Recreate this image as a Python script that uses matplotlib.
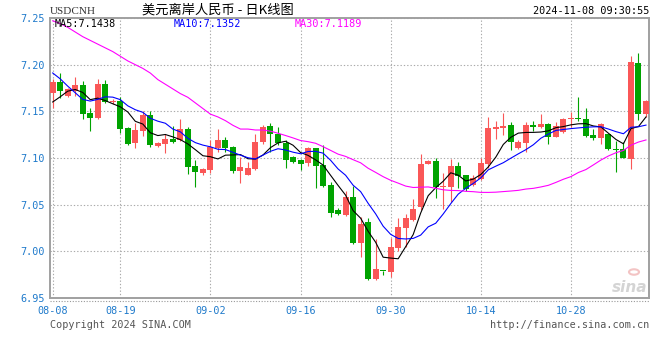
import matplotlib
matplotlib.use("Agg")
import matplotlib.pyplot as plt
import pandas as pd
from matplotlib.lines import Line2D

# Daily candles USDCNH, 2024-08-08 .. 2024-11-08 (Mon-Sat sessions)
opens = [
    7.1695, 7.1812, 7.1663, 7.1713, 7.1777, 7.1479, 7.1426, 7.1798, 7.1600, 7.1610,
    7.1319, 7.1160, 7.1291, 7.1457, 7.1128, 7.1152, 7.1206, 7.1188, 7.1309, 7.0911,
    7.0844, 7.0869, 7.1106, 7.1191, 7.1117, 7.0865, 7.0823, 7.0887, 7.1170, 7.1340,
    7.1262, 7.1160, 7.1011, 7.0975, 7.0947, 7.1106, 7.0926, 7.0713, 7.0447, 7.0390,
    7.0585, 7.0089, 7.0309, 6.9706, 6.9787, 6.9780, 7.0036, 7.0245, 7.0337, 7.0479,
    7.0940, 7.0968, 7.0684, 7.0691, 7.0911, 7.0816, 7.0709, 7.0780, 7.0940, 7.1312,
    7.1323, 7.1355, 7.1110, 7.1163, 7.1355, 7.1330, 7.1362, 7.1230, 7.1277, 7.1415,
    7.1429, 7.1415, 7.1245, 7.1216, 7.1255, 7.1096, 7.1092, 7.0993, 7.2021, 7.1472,
]
highs = [
    7.1848, 7.1908, 7.1748, 7.1869, 7.1826, 7.1539, 7.1848, 7.1840, 7.1628, 7.1656,
    7.1330, 7.1380, 7.1500, 7.1500, 7.1167, 7.1259, 7.1340, 7.1418, 7.1330, 7.0975,
    7.0894, 7.1188, 7.1309, 7.1223, 7.1131, 7.1011, 7.0957, 7.1259, 7.1355, 7.1372,
    7.1330, 7.1188, 7.1018, 7.0993, 7.1117, 7.1106, 7.1138, 7.0738, 7.0468, 7.0649,
    7.0699, 7.0372, 7.0355, 7.0131, 6.9787, 7.0142, 7.0355, 7.0397, 7.0557, 7.1046,
    7.0982, 7.1000, 7.0840, 7.0993, 7.0957, 7.0816, 7.0816, 7.1000, 7.1436, 7.1400,
    7.1479, 7.1383, 7.1188, 7.1383, 7.1394, 7.1468, 7.1372, 7.1383, 7.1426, 7.1496,
    7.1649, 7.1532, 7.1312, 7.1372, 7.1255, 7.1181, 7.1170, 7.2092, 7.2128, 7.1621,
]
lows = [
    7.1532, 7.1645, 7.1656, 7.1663, 7.1422, 7.1291, 7.1415, 7.1585, 7.1574, 7.1273,
    7.1142, 7.1103, 7.1238, 7.1121, 7.1117, 7.1053, 7.1160, 7.1181, 7.0833, 7.0691,
    7.0823, 7.0840, 7.1064, 7.1064, 7.0844, 7.0727, 7.0816, 7.0876, 7.1152, 7.1064,
    7.1135, 7.0897, 7.0947, 7.0876, 7.0918, 7.0681, 7.0691, 7.0372, 7.0390, 7.0383,
    7.0082, 6.9940, 6.9691, 6.9691, 6.9748, 6.9727, 7.0000, 7.0046, 7.0330, 7.0443,
    7.0940, 7.0567, 7.0450, 7.0525, 7.0674, 7.0649, 7.0699, 7.0769, 7.0897, 7.1206,
    7.1248, 7.1089, 7.1099, 7.1064, 7.1287, 7.1319, 7.1152, 7.1223, 7.1266, 7.1337,
    7.1401, 7.1223, 7.1188, 7.1152, 7.1082, 7.0851, 7.0996, 7.0887, 7.1408, 7.1436,
]
closes = [
    7.1812, 7.1716, 7.1734, 7.1777, 7.1472, 7.1426, 7.1798, 7.1603, 7.1606, 7.1309,
    7.1149, 7.1298, 7.1457, 7.1138, 7.1160, 7.1206, 7.1170, 7.1309, 7.0908, 7.0851,
    7.0883, 7.1117, 7.1191, 7.1110, 7.0862, 7.0904, 7.0894, 7.1170, 7.1330, 7.1259,
    7.1156, 7.0982, 7.0957, 7.0940, 7.1106, 7.0918, 7.0702, 7.0408, 7.0397, 7.0585,
    7.0089, 7.0298, 6.9706, 6.9809, 6.9784, 7.0043, 7.0259, 7.0355, 7.0457, 7.0940,
    7.0972, 7.0684, 7.0702, 7.0911, 7.0809, 7.0663, 7.0784, 7.0947, 7.1319, 7.1333,
    7.1344, 7.1167, 7.1170, 7.1355, 7.1337, 7.1362, 7.1230, 7.1340, 7.1415, 7.1429,
    7.1418, 7.1238, 7.1216, 7.1362, 7.1092, 7.1085, 7.1004, 7.2032, 7.1472, 7.1606,
]

# moving-average values at the start of the window (they rely on earlier sessions)
ma5_head = [7.1600, 7.1656, 7.1716, 7.1734]
ma10_head = [7.1911, 7.1848, 7.1770, 7.1699, 7.1628, 7.1610, 7.1628, 7.1656, 7.1652]
ma30_head = [
    7.247, 7.244, 7.240, 7.235, 7.230, 7.226, 7.222, 7.218, 7.214, 7.209,
    7.204, 7.200, 7.196, 7.191, 7.184, 7.179, 7.174, 7.169, 7.165, 7.159,
    7.153, 7.147, 7.144, 7.140, 7.135, 7.131, 7.131, 7.130, 7.130,
]

date_labels = ["08-08", "08-19", "09-02", "09-16", "09-30", "10-14", "10-28"]
date_index = [0, 9, 21, 33, 45, 57, 69]
y_ticks = [6.95, 7.00, 7.05, 7.10, 7.15, 7.20, 7.25]

df = pd.DataFrame({"open": opens, "high": highs, "low": lows, "close": closes})


def moving_average(n, head):
    ma = df["close"].rolling(n).mean()
    ma.iloc[: len(head)] = head
    return ma


df["ma5"] = moving_average(5, ma5_head)
df["ma10"] = moving_average(10, ma10_head)
df["ma30"] = moving_average(30, ma30_head)

RED = "#fa5757"
GREEN = "#00a300"
TICK_BLUE = "#1f7acb"
W, H = 660, 360

fig = plt.figure(figsize=(6.6, 3.6), dpi=100)
ax = fig.add_axes([50 / W, 1 - 298 / H, 599 / W, 280 / H])

# candles
for i, row in df.iterrows():
    up = row["close"] >= row["open"]
    color = RED if up else GREEN
    ax.vlines(i, row["low"], row["high"], color=color, linewidth=0.8, zorder=3)
    bottom = min(row["open"], row["close"])
    height = max(abs(row["close"] - row["open"]), 0.0011)
    ax.bar(i, height, bottom=bottom, width=0.8, color=color, linewidth=0, zorder=4)

ax.plot(df.index, df["ma5"], color="black", linewidth=0.8, zorder=5)
ax.plot(df.index, df["ma10"], color="#0000ff", linewidth=0.8, zorder=5)
ax.plot(df.index, df["ma30"], color="#ff00ff", linewidth=0.8, zorder=5)

ax.set_xlim(-0.36, 79.4)
ax.set_ylim(6.95, 7.25)
ax.set_yticks(y_ticks)
ax.set_yticklabels([f"{v:.2f}" for v in y_ticks])
ax.set_xticks(date_index)
ax.set_xticklabels(date_labels)
ax.grid(True, color="#aaaaaa", linestyle=(0, (1.2, 1.8)), linewidth=0.8)
ax.tick_params(length=0, labelsize=7.3, labelcolor=TICK_BLUE, pad=4)
ax.tick_params(axis="x", pad=6)
for lbl in ax.get_xticklabels() + ax.get_yticklabels():
    lbl.set_family("DejaVu Sans Mono")
for sp in ax.spines.values():
    sp.set_color("#a0a0a0")
    sp.set_linewidth(1.4)

fig.add_artist(Line2D([50 / W, 649 / W], [1 - 301 / H] * 2, transform=fig.transFigure,
                      color="#999999", linestyle=(0, (1, 1.5)), linewidth=0.8))

mono = "DejaVu Sans Mono"


def ftext(x, y, s, **kw):
    fig.text(x / W, 1 - y / H, s, va="center", **kw)


ftext(50, 11, "USDCNH", family="Liberation Serif", fontsize=8, color="#333333")
ftext(218, 10, "美元离岸人民币 - 日K线图", family=["Noto Sans CJK SC", "DejaVu Sans"],
      fontsize=9.5, ha="center", color="black")
ftext(649, 11, "2024-11-08 09:30:55", family=mono, fontsize=7.3, ha="right", color="black")
ftext(55, 24, "MA5:7.1438", family=mono, fontsize=7.3, color="black")
ftext(174, 24, "MA10:7.1352", family=mono, fontsize=7.3, color="#0000ff")
ftext(295, 24, "MA30:7.1189", family=mono, fontsize=7.3, color="#ff00ff")
ftext(50, 325, "Copyright 2024 SINA.COM", family=mono, fontsize=7.3, color="#555555")
ftext(649, 325, "http://finance.sina.com.cn", family=mono, fontsize=7.3, ha="right",
      color="#555555")

# faint sina watermark
ftext(647, 288, "sina", family="DejaVu Sans", fontsize=11, fontweight="bold", style="italic",
      ha="right", color="#d4d4d4")
fig.add_artist(plt.Circle((634 / W, 1 - 272 / H), 5 / W, transform=fig.transFigure,
                          color="#f3c4c4", fill=False, linewidth=1.5))

fig.savefig("out.png", dpi=100)
